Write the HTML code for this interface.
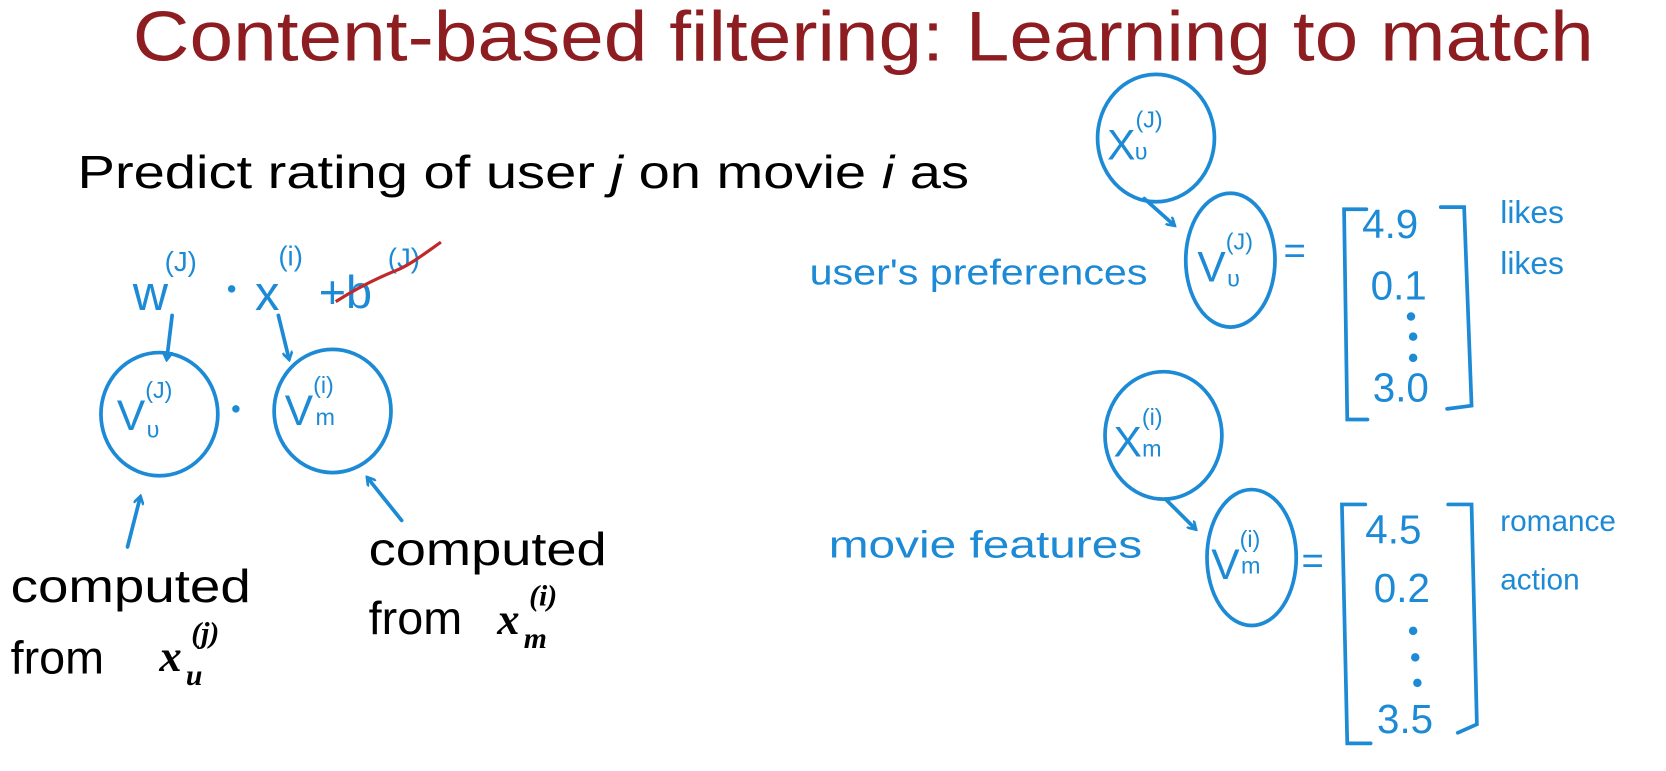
<!DOCTYPE html>
<html><head><meta charset="utf-8"><style>
html,body{margin:0;padding:0;background:#fff;width:1666px;height:771px;overflow:hidden}
svg{display:block}
.h{font-family:"Liberation Sans",sans-serif;fill:#1d8ad6}
.k{font-family:"Liberation Sans",sans-serif;fill:#000}
.m{font-family:"Liberation Serif",serif;fill:#000;font-style:italic;font-weight:bold}
</style></head><body>
<svg width="1666" height="771" viewBox="0 0 1568 726" preserveAspectRatio="none" xmlns="http://www.w3.org/2000/svg">
<defs><marker id="a" markerWidth="10" markerHeight="10" refX="7" refY="5" orient="auto" markerUnits="userSpaceOnUse"><path d="M0,0 L8,5 L0,10" fill="none" stroke="#1d8ad6" stroke-width="2.5"/></marker></defs>
<text x="125" y="57" font-family="Liberation Sans,sans-serif" font-size="66" fill="#8e1d22" textLength="1375" lengthAdjust="spacingAndGlyphs">Content-based filtering: Learning to match</text>
<text class="k" x="73" y="177" font-size="44" textLength="839" lengthAdjust="spacingAndGlyphs">Predict rating of user <tspan font-style="italic">j</tspan> on movie <tspan font-style="italic">i</tspan> as</text>
<g fill="none" stroke="#1d8ad6" stroke-width="3.5" stroke-linecap="round">
<ellipse cx="150" cy="390" rx="55" ry="58"/>
<ellipse cx="313" cy="387" rx="55" ry="58"/>
<path d="M162,297 L157,338" marker-end="url(#a)"/>
<path d="M262,297 L272,338" marker-end="url(#a)"/>
<path d="M120,515 L132,468" marker-end="url(#a)"/>
<path d="M378,490 L346,450" marker-end="url(#a)"/>
<ellipse cx="1088" cy="130" rx="55" ry="60"/>
<ellipse cx="1158" cy="245" rx="42" ry="63"/>
<path d="M1077,187 L1105,212" marker-end="url(#a)"/>
<path d="M1286,197 L1265,197 L1268,395 L1287,395 M1356,195 L1378,195 L1385,382 L1362,385"/>
<ellipse cx="1095" cy="410" rx="55" ry="60"/>
<ellipse cx="1178" cy="525" rx="42" ry="64"/>
<path d="M1097,470 L1125,498" marker-end="url(#a)"/>
<path d="M1285,475 L1263,475 L1268,700 L1290,700 M1363,475 L1385,475 L1390,682 L1372,690"/>
</g>
<g class="h">
<text x="125" y="292" font-size="46">w</text>
<text x="155" y="255" font-size="26">(J)</text>
<circle cx="218" cy="272" r="3.5"/>
<text x="240" y="292" font-size="46">x</text>
<text x="262" y="250" font-size="26">(i)</text>
<text x="300" y="290" font-size="44">+b</text>
<text x="365" y="252" font-size="26">(J)</text>
<circle cx="222" cy="385" r="3.5"/>
<text x="110" y="405" font-size="40">V<tspan font-size="22" dy="-30">(J)</tspan></text><text x="138" y="412" font-size="22">υ</text>
<text x="268" y="400" font-size="40">V<tspan font-size="22" dy="-30">(i)</tspan></text><text x="297" y="400" font-size="22">m</text>
<text x="1042" y="150" font-size="40">X<tspan font-size="22" dy="-30">(J)</tspan></text><text x="1068" y="150" font-size="22">υ</text>
<text x="1127" y="265" font-size="40">V<tspan font-size="22" dy="-30">(J)</tspan></text><text x="1155" y="270" font-size="22">υ</text>
<text x="1048" y="430" font-size="40">X<tspan font-size="22" dy="-30">(i)</tspan></text><text x="1075" y="430" font-size="22">m</text>
<text x="1140" y="545" font-size="40">V<tspan font-size="22" dy="-30">(i)</tspan></text><text x="1168" y="540" font-size="22">m</text>
<text x="1208" y="248" font-size="36">=</text>
<text x="1225" y="540" font-size="36">=</text>
<text x="762" y="268" font-size="34" textLength="318" lengthAdjust="spacingAndGlyphs">user's preferences</text>
<text x="780" y="525" font-size="36" textLength="295" lengthAdjust="spacingAndGlyphs">movie  features</text>
<text x="1282" y="224" font-size="38">4.9</text>
<text x="1290" y="282" font-size="38">0.1</text>
<circle cx="1328" cy="298" r="4"/><circle cx="1330" cy="317" r="4"/><circle cx="1330" cy="337" r="4"/>
<text x="1292" y="378" font-size="38">3.0</text>
<text x="1285" y="512" font-size="38">4.5</text>
<text x="1293" y="567" font-size="38">0.2</text>
<circle cx="1330" cy="594" r="4"/><circle cx="1332" cy="619" r="4"/><circle cx="1334" cy="643" r="4"/>
<text x="1296" y="690" font-size="38">3.5</text>
<text x="1412" y="210" font-size="30">likes</text>
<text x="1412" y="258" font-size="30">likes</text>
<text x="1412" y="500" font-size="28">romance</text>
<text x="1412" y="555" font-size="28">action</text>
</g>
<path d="M316,284 C335,272 355,262 372,255 C385,250 398,240 415,228" stroke="#c0282a" stroke-width="3" fill="none"/>
<g>
<text class="k" x="10" y="567" font-size="44" textLength="226" lengthAdjust="spacingAndGlyphs">computed</text>
<text class="k" x="10" y="634" font-size="44">from</text>
<text class="m" x="150" y="632" font-size="42">x</text>
<text class="m" x="175" y="645" font-size="28">u</text>
<text class="m" x="180" y="605" font-size="28" font-weight="normal">(j)</text>
<text class="k" x="347" y="532" font-size="44" textLength="224" lengthAdjust="spacingAndGlyphs">computed</text>
<text class="k" x="347" y="597" font-size="44">from</text>
<text class="m" x="468" y="597" font-size="42">x</text>
<text class="m" x="493" y="610" font-size="28">m</text>
<text class="m" x="498" y="570" font-size="28" font-weight="normal">(i)</text>
</g>
</svg>
</body></html>
